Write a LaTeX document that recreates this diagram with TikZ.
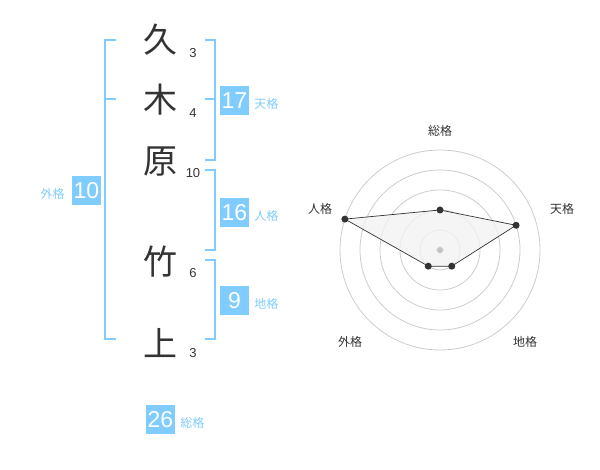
\documentclass[tikz,border=0pt]{standalone}
\usepackage{fontspec}
\setmainfont{Liberation Sans}
\newfontfamily\jp{Noto Sans CJK JP}
\usetikzlibrary{positioning}
\definecolor{sky}{HTML}{80CCFF}
\definecolor{ink}{HTML}{333333}
\definecolor{ring}{HTML}{CCCCCC}
\definecolor{shade-gray}{gray}{0.95}

\begin{document}
\begin{tikzpicture}[x=1pt, y=-1pt,
  kanji/.style={font=\jp\fontsize{34}{34}\selectfont, text=ink, inner sep=0pt},
  stroke/.style={font=\fontsize{13}{13}\selectfont, text=ink, inner sep=0pt},
  score/.style={fill=sky, text=white, font=\fontsize{23}{23}\selectfont, minimum size=29pt, inner sep=0pt},
  kaku/.style={font=\jp\fontsize{12}{12}\selectfont, text=sky, inner sep=0pt, yshift=-3pt},
  brace/.style={draw=sky, line width=2pt},
  axis/.style={font=\jp\fontsize{12}{12}\selectfont, text=ink, inner sep=0pt},
  ring/.style={draw=ring, line width=0.8pt},
  spot/.style={fill=ink}]
 \useasboundingbox (0,0) rectangle (600,470);
 %name
 \node[kanji] (kyu) at (160,40) {久};
 \node[kanji] (ki) at (160,100) {木};
 \node[kanji] (hara) at (160,162) {原};
 \node[kanji] (take) at (160,262) {竹};
 \node[kanji] (ue) at (160,343) {上};
 \node[stroke] (s1) at (193,53) {3};
 \node[stroke] (s2) at (193,113) {4};
 \node[stroke] (s3) at (193,173) {10};
 \node[stroke] (s4) at (193,273) {6};
 \node[stroke] (s5) at (193,353) {3};
 %brackets
 \draw[brace] (116,40) -- (105,40) -- (105,339) -- (116,339);
 \draw[brace] (105,99) -- (116,99);
 \draw[brace] (205,40) -- (215,40) -- (215,160) -- (205,160);
 \draw[brace] (205,99) -- (215,99);
 \draw[brace] (205,170) -- (215,170) -- (215,250) -- (205,250);
 \draw[brace] (205,260) -- (215,260) -- (215,339) -- (205,339);
 %scores
 \node[score] (ten) at (234.5,100.5) {17};
 \node[kaku, right=5pt of ten] {天格};
 \node[score] (jin) at (234.5,212.5) {16};
 \node[kaku, right=5pt of jin] {人格};
 \node[score] (chi) at (234.5,300.5) {9};
 \node[kaku, right=5pt of chi] {地格};
 \node[score] (gai) at (86.5,190.5) {10};
 \node[kaku, left=7pt of gai] {外格};
 \node[score] (so) at (160.5,419.5) {26};
 \node[kaku, right=5pt of so] {総格};
 %chart
 \begin{scope}[shift={(440,250)}, y=1pt]
  \foreach \r in {20,40,60,80,100}
   \draw[ring] (0,0) circle (\r);
  \fill[ring] (0,0) circle (3.5);
  \coordinate (p1) at (90:40);
  \coordinate (p2) at (18:80);
  \coordinate (p3) at (-54:20);
  \coordinate (p4) at (-126:20);
  \coordinate (p5) at (162:100);
  \filldraw[fill=shade-gray, fill opacity=0.8, draw=ink, line width=0.7pt]
   (p1) -- (p2) -- (p3) -- (p4) -- (p5) -- cycle;
  \foreach \p in {p1,p2,p3,p4,p5}
   \fill[spot] (\p) circle (3.5);
 \end{scope}
 \node[axis] (a1) at (440,131) {総格};
 \node[axis] (a2) at (562,209) {天格};
 \node[axis] (a3) at (525,342) {地格};
 \node[axis] (a4) at (350,342) {外格};
 \node[axis] (a5) at (320,209) {人格};
\end{tikzpicture}
\end{document}
